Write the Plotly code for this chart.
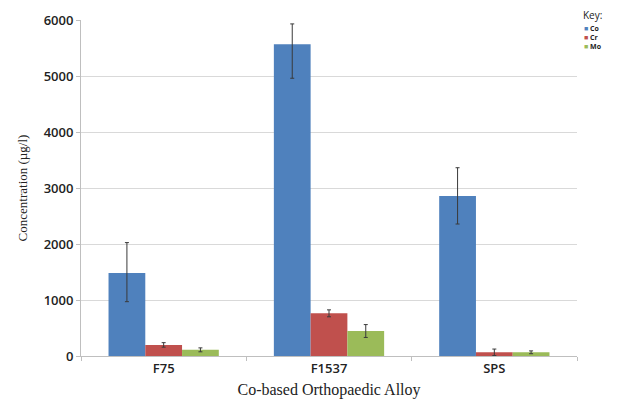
import plotly.graph_objects as go

categories = ["F75", "F1537", "SPS"]
series_names = ["Co", "Cr", "Mo"]
co_values = [1480, 5565, 2857]
co_errors_plus = [545, 365, 505]
co_errors_minus = [510, 605, 500]
cr_values = [198, 762, 66]
cr_errors = [40, 62, 58]
mo_values = [110, 446, 66]
mo_errors = [35, 115, 25]
colors = ["#4F81BD", "#C0504D", "#9BBB59"]
y_ticks = [0, 1000, 2000, 3000, 4000, 5000, 6000]

plus = [co_errors_plus, cr_errors, mo_errors]
minus = [co_errors_minus, cr_errors, mo_errors]

fig = go.Figure()
for name, vals, ep, em, col in zip(series_names, [co_values, cr_values, mo_values],
                                   plus, minus, colors):
    fig.add_trace(go.Bar(
        x=categories, y=vals, name=name,
        marker=dict(color=col, line=dict(width=0)),
        error_y=dict(type="data", symmetric=False, array=ep, arrayminus=em,
                     visible=True, color="#3a3a3a", thickness=1, width=2),
        showlegend=False,
    ))

fig.update_layout(
    width=620, height=409,
    margin=dict(l=81, r=43, t=20, b=53),
    paper_bgcolor="white", plot_bgcolor="white",
    barmode="group", bargap=0.333, bargroupgap=0,
    font=dict(family="Open Sans", color="#222"),
    xaxis=dict(
        showline=True, linecolor="#BFBFBF", linewidth=1,
        ticks="outside", tickson="boundaries", ticklen=4, tickcolor="#BFBFBF",
        tickfont=dict(family="Open Sans", size=13, color="#222", weight=600),
        title=dict(text="Co-based Orthopaedic Alloy",
                   font=dict(family="Liberation Serif", size=16, color="#222"),
                   standoff=8),
    ),
    yaxis=dict(
        range=[0, 6000], tickvals=y_ticks,
        showline=True, linecolor="#BFBFBF", linewidth=1,
        ticks="outside", ticklen=4, tickcolor="#BFBFBF",
        showgrid=True, gridcolor="#D9D9D9", gridwidth=1,
        zeroline=False,
        tickfont=dict(family="Open Sans", size=13, color="#222", weight=600),
        title=dict(text="Concentration (µg/l)",
                   font=dict(family="Liberation Serif", size=13, color="#222"),
                   standoff=13),
    ),
)

# Key (legend) drawn as text annotations
fig.add_annotation(xref="paper", yref="paper", x=1.008, y=1.015, xanchor="left",
                   yanchor="middle", text="Key:", showarrow=False,
                   font=dict(family="Open Sans", size=10, color="#222"))
key_lines = "<br>".join(
    f"<span style='color:{col}'>■</span> <b>{name}</b>"
    for name, col in zip(series_names, colors)
)
fig.add_annotation(
    xref="paper", yref="paper", x=1.012, y=0.99,
    xanchor="left", yanchor="top", showarrow=False, align="left",
    text=key_lines, borderpad=0,
    font=dict(family="Open Sans", size=7, color="#222"),
)

fig.write_html("out.html")
